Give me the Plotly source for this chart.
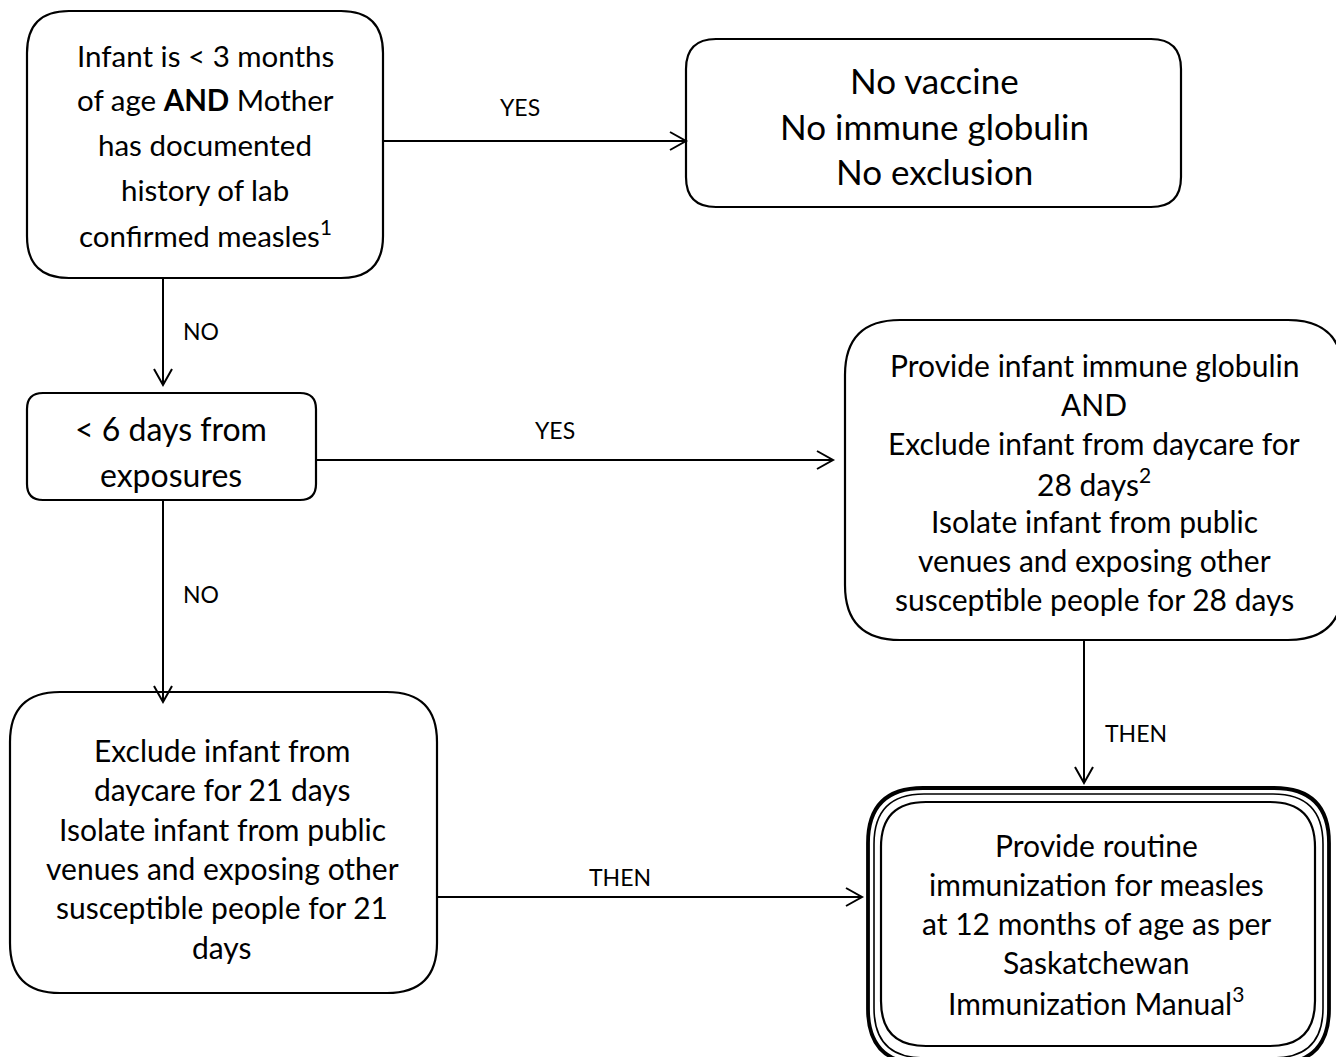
import plotly.graph_objects as go

FONT = "Lato, 'Open Sans', sans-serif"

# box texts, one entry per line
box_a_lines = ["Infant is < 3 months", "of age <b>AND</b> Mother", "has documented",
               "history of lab", "confirmed measles<sup>1</sup>"]
box_b_lines = ["No vaccine", "No immune globulin", "No exclusion"]
box_c_lines = ["< 6 days from", "exposures"]
box_d_lines = ["Provide infant immune globulin", "AND", "Exclude infant from daycare for",
               "28 days<sup>2</sup>", "Isolate infant from public",
               "venues and exposing other", "susceptible people for 28 days"]
box_e_lines = ["Exclude infant from", "daycare for 21 days", "Isolate infant from public",
               "venues and exposing other", "susceptible people for 21", "days"]
box_f_lines = ["Provide routine", "immunization for measles", "at 12 months of age as per",
               "Saskatchewan", "Immunization Manual<sup>3</sup>"]

# edge labels
edge_labels = ["YES", "NO", "YES", "NO", "THEN", "THEN"]

W, H = 1344, 1057
OFF = 8  # page body margin
fig = go.Figure()


def rrect(x0, y0, x1, y1, r, width=2.2):
    path = (f"M {x0+r},{y0} L {x1-r},{y0} Q {x1},{y0} {x1},{y0+r} "
            f"L {x1},{y1-r} Q {x1},{y1} {x1-r},{y1} L {x0+r},{y1} "
            f"Q {x0},{y1} {x0},{y1-r} L {x0},{y0+r} Q {x0},{y0} {x0+r},{y0} Z")
    fig.add_shape(type="path", path=path, xref="x", yref="y",
                  line=dict(color="black", width=width), fillcolor="white", layer="below")


def text_block(lines, cx, y0, dy, size):
    for i, t in enumerate(lines):
        fig.add_annotation(x=cx, y=y0 + i * dy, text=t, showarrow=False,
                           xref="x", yref="y", xanchor="center", yanchor="middle",
                           font=dict(family=FONT, size=size, color="black"))


def arrow(x0, y0, x1, y1, head=16, half=9):
    fig.add_shape(type="line", x0=x0, y0=y0, x1=x1, y1=y1, xref="x", yref="y",
                  line=dict(color="black", width=2))
    if y0 == y1:
        s = 1 if x1 > x0 else -1
        p = f"M {x1-s*head},{y1-half} L {x1},{y1} L {x1-s*head},{y1+half}"
    else:
        s = 1 if y1 > y0 else -1
        p = f"M {x1-half},{y1-s*head} L {x1},{y1} L {x1+half},{y1-s*head}"
    fig.add_shape(type="path", path=p, xref="x", yref="y",
                  line=dict(color="black", width=2))


def label(t, x, y):
    fig.add_annotation(x=x, y=y, text=t, showarrow=False, xref="x", yref="y",
                       xanchor="center", yanchor="middle",
                       font=dict(family=FONT, size=23, color="black"))


# boxes
rrect(27, 11, 383, 278, 42)
rrect(686, 39, 1181, 207, 30)
rrect(27, 393, 316, 500, 16)
rrect(845, 320, 1343, 640, 55)
rrect(10, 692, 437, 993, 50)
# triple border box
rrect(868, 788, 1329, 1064, 55, width=3.8)
rrect(874, 794, 1323, 1058, 50, width=1.6)
rrect(881, 802, 1315, 1046, 45, width=2.2)

text_block(box_a_lines, 205, 55, 44.8, 29.5)
text_block(box_b_lines, 934, 80, 45.5, 35)
text_block(box_c_lines, 171, 428, 46, 32)
text_block(box_d_lines, 1094, 365, 39, 30)
text_block(box_e_lines, 222, 750, 39.3, 30)
text_block(box_f_lines, 1096, 845, 39, 30)

# arrows
arrow(383, 141, 686, 141)
arrow(163, 278, 163, 385)
arrow(316, 460, 833, 460)
arrow(163, 500, 163, 702)
arrow(1084, 640, 1084, 783)
arrow(437, 897, 862, 897)

for t, (x, y) in zip(edge_labels, [(520, 107), (201, 331), (555, 430),
                                    (201, 594), (1136, 733), (620, 877)]):
    label(t, x, y)

fig.update_layout(
    width=W, height=H,
    margin=dict(l=0, r=0, t=0, b=0),
    paper_bgcolor="white", plot_bgcolor="white",
    xaxis=dict(range=[OFF, W + OFF], visible=False, fixedrange=True),
    yaxis=dict(range=[H + OFF, OFF], visible=False, fixedrange=True),
    showlegend=False,
)
fig.write_html("out.html")
